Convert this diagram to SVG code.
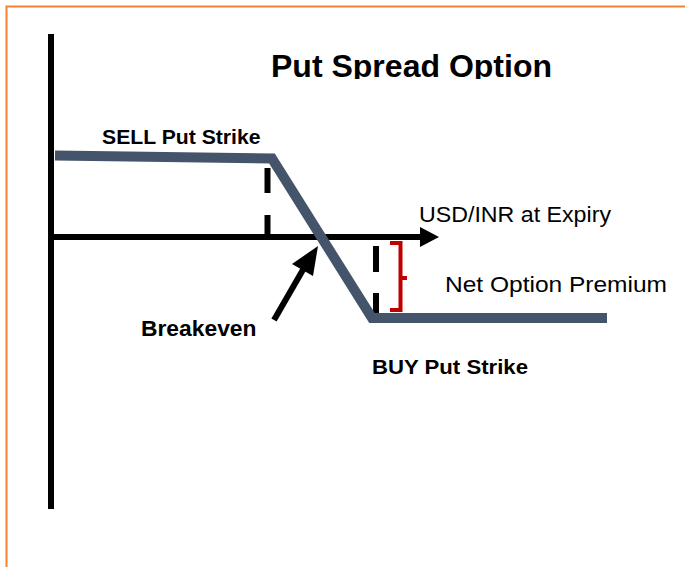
<svg xmlns="http://www.w3.org/2000/svg" width="685" height="567" viewBox="0 0 685 567">
  <style>
    .b { font-family: "Liberation Sans", Arial, sans-serif; font-weight: bold; fill: #000; }
    .r { font-family: "Liberation Sans", Arial, sans-serif; fill: #000; }
    .ax { stroke: #000; stroke-width: 6; fill: none; }
    .dash { stroke: #000; stroke-width: 6; fill: none; }
    .pay { stroke: #44546A; stroke-width: 10; fill: none; stroke-linejoin: miter; }
  </style>
  <defs>
    <clipPath id="titleClip"><rect x="200" y="30" width="420" height="49"/></clipPath>
  </defs>
  <rect x="0" y="0" width="685" height="567" fill="#fff"/>
  <rect id="frame" x="6.5" y="6.5" width="700" height="600" fill="none" stroke="#F58233" stroke-width="2"/>

  <g id="title" clip-path="url(#titleClip)">
    <text class="b" x="271" y="77" font-size="32" textLength="281" lengthAdjust="spacingAndGlyphs">Put Spread Option</text>
  </g>

  <g id="connectors">
    <line id="y-axis" class="ax" x1="51" y1="34" x2="51" y2="509"/>
    <line id="x-axis" class="ax" x1="51" y1="237" x2="422" y2="237"/>
    <polygon points="420,227 439,237 420,247" fill="#000"/>
    <line class="dash" x1="267.5" y1="168" x2="267.5" y2="193"/>
    <line class="dash" x1="267.5" y1="215" x2="267.5" y2="240"/>
    <line class="dash" x1="376" y1="246" x2="376" y2="272"/>
    <line class="dash" x1="376" y1="293" x2="376" y2="320"/>
    <polyline id="payoff" class="pay" points="55,155.5 272,158.5 372,318 607,318"/>
    <path id="bracket" d="M390,243 H400.5 V310 H390 M400.5,278 H407" stroke="#C00000" stroke-width="4" fill="none"/>
    <g id="breakeven-arrow">
      <line x1="274" y1="320" x2="304" y2="268" stroke="#000" stroke-width="6"/>
      <polygon points="318,246 313,276 292,264" fill="#000"/>
    </g>
  </g>

  <g id="sell-label">
    <text class="b" x="102" y="143.5" font-size="21" textLength="158.5" lengthAdjust="spacingAndGlyphs">SELL Put Strike</text>
  </g>
  <g id="axis-label">
    <text class="r" x="419" y="221.5" font-size="22" textLength="192" lengthAdjust="spacingAndGlyphs">USD/INR at Expiry</text>
  </g>
  <g id="premium-label">
    <text class="r" x="445" y="291.5" font-size="22" textLength="222" lengthAdjust="spacingAndGlyphs">Net Option Premium</text>
  </g>
  <g id="breakeven-label">
    <text class="b" x="141" y="336" font-size="22" textLength="115.5" lengthAdjust="spacingAndGlyphs">Breakeven</text>
  </g>
  <g id="buy-label">
    <text class="b" x="372" y="374" font-size="21" textLength="156" lengthAdjust="spacingAndGlyphs">BUY Put Strike</text>
  </g>
</svg>
